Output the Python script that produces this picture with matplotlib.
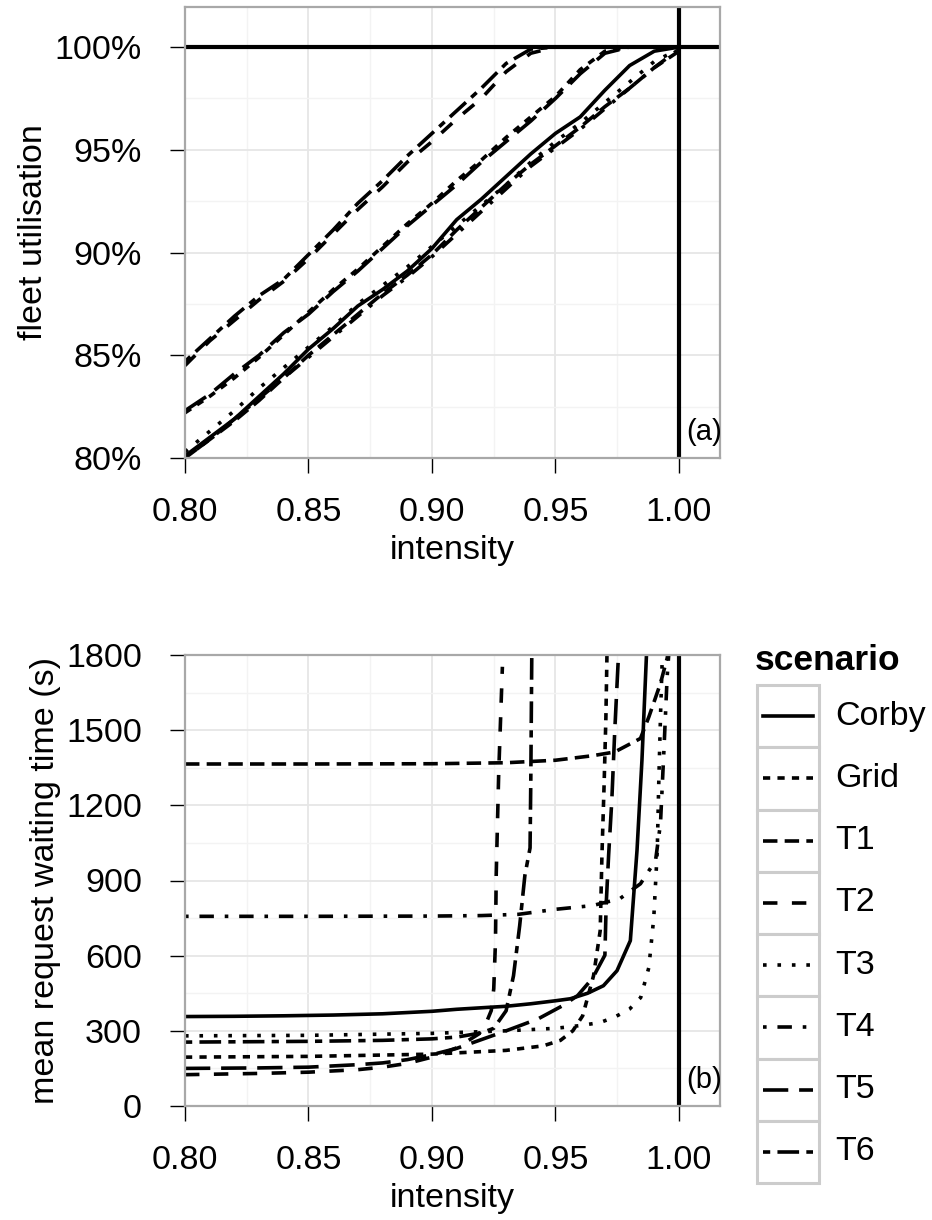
import matplotlib
matplotlib.use("Agg")
import matplotlib.pyplot as plt
import matplotlib.transforms as mtransforms
from matplotlib.patches import Rectangle
from matplotlib.ticker import FixedLocator, FormatStrFormatter

plt.rcParams['font.family'] = ['Liberation Sans', 'DejaVu Sans']

SCENARIOS = ["Corby", "Grid", "T1", "T2", "T3", "T4", "T5", "T6"]

# ---- panel (a): fleet utilisation (%) vs intensity ----
UTIL_X = [0.80, 0.81, 0.82, 0.83, 0.84, 0.85, 0.86, 0.87, 0.88, 0.89, 0.90,
          0.91, 0.92, 0.93, 0.94, 0.95, 0.96, 0.97, 0.98, 0.99, 1.00]
UTIL_CORBY = [80.1, 81.0, 81.9, 83.0, 84.1, 85.3, 86.3, 87.4, 88.2, 89.1, 90.2,
              91.6, 92.6, 93.7, 94.8, 95.8, 96.6, 97.9, 99.1, 99.8, 100.0]
UTIL_GRID = [82.2, 83.0, 83.9, 84.9, 86.0, 87.1, 88.2, 89.2, 90.3, 91.4, 92.4,
             93.5, 94.5, 95.6, 96.6, 97.6, 98.9, 99.8, 100.0, 100.0, 100.0]
UTIL_T1 = [80.0, 80.9, 81.8, 82.8, 83.9, 85.0, 86.0, 87.0, 88.0, 88.9, 89.9,
           91.1, 92.2, 93.3, 94.3, 95.2, 96.1, 97.1, 98.0, 99.0, 99.8]
UTIL_T2 = [84.5, 85.7, 86.7, 87.7, 88.6, 89.7, 90.9, 92.1, 93.2, 94.4, 95.4,
           96.5, 97.5, 98.8, 99.7, 100.0, 100.0, 100.0, 100.0, 100.0, 100.0]
UTIL_T3 = [80.3, 81.3, 82.3, 83.4, 84.4, 85.4, 86.4, 87.5, 88.4, 89.3, 90.3,
           91.3, 92.3, 93.3, 94.4, 95.4, 96.3, 97.3, 98.3, 99.3, 99.9]
UTIL_T4 = [80.0, 80.9, 81.9, 82.9, 83.9, 84.9, 85.9, 86.9, 87.9, 88.8, 89.8,
           90.9, 92.0, 93.1, 94.2, 95.1, 96.0, 97.0, 98.0, 99.0, 99.9]
UTIL_T5 = [82.3, 83.1, 84.1, 85.0, 86.1, 87.0, 88.1, 89.1, 90.2, 91.3, 92.3,
           93.3, 94.4, 95.4, 96.4, 97.5, 98.7, 99.7, 100.0, 100.0, 100.0]
UTIL_T6 = [84.7, 85.8, 86.9, 87.9, 88.7, 89.9, 91.1, 92.4, 93.5, 94.7, 95.8,
           96.9, 98.0, 99.2, 99.9, 100.0, 100.0, 100.0, 100.0, 100.0, 100.0]

# ---- panel (b): mean request waiting time (s) vs intensity ----
WAIT_X_CORBY = [0.80, 0.82, 0.84, 0.86, 0.88, 0.90, 0.91, 0.92, 0.93, 0.94, 0.95,
                0.956, 0.963, 0.9694, 0.9749, 0.9803, 0.983, 0.985, 0.9868, 0.9875]
WAIT_CORBY = [357, 358, 360, 363, 368, 378, 386, 392, 398, 408, 420,
              428, 450, 480, 540, 660, 1020, 1380, 1793, 1950]
WAIT_X_GRID = [0.80, 0.85, 0.90, 0.93, 0.945, 0.952, 0.957, 0.961, 0.9654, 0.9681,
               0.9688, 0.9697, 0.9704, 0.9708, 0.971]
WAIT_GRID = [195, 198, 207, 222, 240, 262, 300, 360, 520, 700,
             1000, 1290, 1550, 1780, 1900]
WAIT_X_T1 = [0.80, 0.85, 0.90, 0.93, 0.95, 0.965, 0.974, 0.9844, 0.9878, 0.9925,
             0.9952, 0.9962]
WAIT_T1 = [1365, 1365, 1366, 1370, 1380, 1398, 1413, 1467, 1553, 1687,
           1787, 1850]
WAIT_X_T2 = [0.80, 0.83, 0.85, 0.87, 0.88, 0.89, 0.90, 0.91, 0.919, 0.9215,
             0.924, 0.925, 0.9257, 0.926, 0.927, 0.9285]
WAIT_T2 = [125, 130, 135, 145, 155, 170, 195, 232, 288, 321,
           381, 468, 656, 923, 1328, 1753]
WAIT_X_T3 = [0.80, 0.85, 0.90, 0.93, 0.95, 0.96, 0.968, 0.974, 0.98, 0.9845,
             0.9878, 0.9898, 0.9912, 0.9918, 0.9925, 0.9932, 0.994]
WAIT_T3 = [280, 282, 290, 300, 310, 321, 333, 355, 387, 433,
           553, 753, 1020, 1287, 1553, 1780, 1950]
WAIT_X_T4 = [0.80, 0.85, 0.90, 0.92, 0.935, 0.95, 0.965, 0.976, 0.9844, 0.9905,
             0.9925, 0.9939, 0.9952, 0.9962]
WAIT_T4 = [757, 757, 758, 760, 765, 785, 800, 827, 887, 980,
           1127, 1420, 1713, 1850]
WAIT_X_T5 = [0.80, 0.83, 0.85, 0.87, 0.88, 0.89, 0.90, 0.91, 0.92, 0.93,
             0.943, 0.953, 0.959, 0.965, 0.970, 0.9705, 0.9715, 0.9728, 0.974,
             0.9755, 0.976]
WAIT_T5 = [150, 152, 155, 165, 172, 185, 205, 230, 265, 300,
           348, 401, 441, 510, 602, 800, 1000, 1220, 1500,
           1800, 1900]
WAIT_X_T6 = [0.80, 0.85, 0.88, 0.90, 0.91, 0.92, 0.925, 0.93, 0.933, 0.9355,
             0.9376, 0.9397, 0.940, 0.9404, 0.9406]
WAIT_T6 = [255, 258, 262, 268, 275, 292, 310, 380, 520, 720,
           920, 1030, 1300, 1800, 1900]

UTIL = dict(zip(SCENARIOS, [UTIL_CORBY, UTIL_GRID, UTIL_T1, UTIL_T2,
                            UTIL_T3, UTIL_T4, UTIL_T5, UTIL_T6]))
WAIT = dict(zip(SCENARIOS, [(WAIT_X_CORBY, WAIT_CORBY), (WAIT_X_GRID, WAIT_GRID),
                            (WAIT_X_T1, WAIT_T1), (WAIT_X_T2, WAIT_T2),
                            (WAIT_X_T3, WAIT_T3), (WAIT_X_T4, WAIT_T4),
                            (WAIT_X_T5, WAIT_T5), (WAIT_X_T6, WAIT_T6)]))

# ggplot's default linetype sequence
LTY = {
    "Corby": "solid",
    "Grid": (0, (2, 2)),
    "T1": (0, (4, 2)),
    "T2": (0, (4, 4)),
    "T3": (0, (1, 3)),
    "T4": (0, (1, 3, 4, 3)),
    "T5": (0, (7, 3)),
    "T6": (0, (2, 2, 6, 2)),
}
LW = 2.6
FS = 24.5
W, H = 932, 1220


def style(ax):
    ax.set_facecolor("white")
    for s in ax.spines.values():
        s.set_color("#A8A8A8")
        s.set_linewidth(1.6)
    ax.grid(which="major", color="#E6E6E6", lw=1.3)
    ax.grid(which="minor", color="#F3F3F3", lw=1.0)
    ax.set_axisbelow(True)
    ax.tick_params(which="major", length=11, width=1.0, color="black",
                   labelsize=FS, pad=20)
    ax.tick_params(axis="x", which="major", pad=17)
    ax.tick_params(which="minor", length=0)
    ax.set_xlim(0.80, 1.0166)
    ax.set_xticks([0.80, 0.85, 0.90, 0.95, 1.00])
    ax.xaxis.set_minor_locator(FixedLocator([0.825, 0.875, 0.925, 0.975]))
    ax.xaxis.set_major_formatter(FormatStrFormatter("%.2f"))
    ax.set_xlabel("intensity", fontsize=FS, labelpad=5)


fig = plt.figure(figsize=(W / 100, H / 100), dpi=100)

# panel (a)
ax = fig.add_axes([185 / W, (H - 458) / H, 535 / W, 451 / H])
style(ax)
for name in SCENARIOS:
    ax.plot(UTIL_X, UTIL[name], color="black", lw=LW, ls=LTY[name])
ax.axhline(100, color="black", lw=3.0)
ax.axvline(1.0, color="black", lw=3.0)
ax.set_ylim(80, 101.95)
ax.set_yticks([80, 85, 90, 95, 100])
ax.yaxis.set_minor_locator(FixedLocator([82.5, 87.5, 92.5, 97.5]))
ax.set_yticklabels([f"{v}%" for v in [80, 85, 90, 95, 100]])
ax.set_ylabel("fleet utilisation", fontsize=FS, labelpad=4)
tr = mtransforms.blended_transform_factory(ax.transData, ax.transAxes)
ax.text(1.0028, 0.058, "(a)", transform=tr, fontsize=21, va="center", ha="left")

# panel (b)
ax = fig.add_axes([185 / W, (H - 1106) / H, 535 / W, 451 / H])
style(ax)
for name in SCENARIOS:
    xs, ys = WAIT[name]
    ax.plot(xs, ys, color="black", lw=LW, ls=LTY[name])
ax.axvline(1.0, color="black", lw=3.0)
ax.set_ylim(0, 1800)
ax.set_yticks([0, 300, 600, 900, 1200, 1500, 1800])
ax.yaxis.set_minor_locator(FixedLocator([150, 450, 750, 1050, 1350, 1650]))
ax.set_ylabel("mean request waiting time (s)", fontsize=FS, labelpad=4)
tr = mtransforms.blended_transform_factory(ax.transData, ax.transAxes)
ax.text(1.0028, 0.058, "(b)", transform=tr, fontsize=21, va="center", ha="left")

# legend, drawn by hand in ggplot style
lg = fig.add_axes([757 / W, (H - 1183) / H, 62 / W, 498 / H])
lg.set_xlim(0, 1)
lg.set_ylim(len(SCENARIOS), 0)
lg.axis("off")
for i, name in enumerate(SCENARIOS):
    lg.add_patch(Rectangle((0, i), 1, 1, facecolor="white", edgecolor="#CCCCCC",
                           lw=2.2, clip_on=False))
    lg.plot([0.1, 0.9], [i + 0.5, i + 0.5], color="black", lw=LW, ls=LTY[name])
    fig.text(835 / W, 1 - (685 + 62.25 * (i + 0.5)) / H, name, fontsize=FS,
             va="center", ha="left")
fig.text(755 / W, 1 - 660 / H, "scenario", fontsize=25.5, fontweight="bold",
         va="center", ha="left")

fig.savefig("out.png", dpi=100)
